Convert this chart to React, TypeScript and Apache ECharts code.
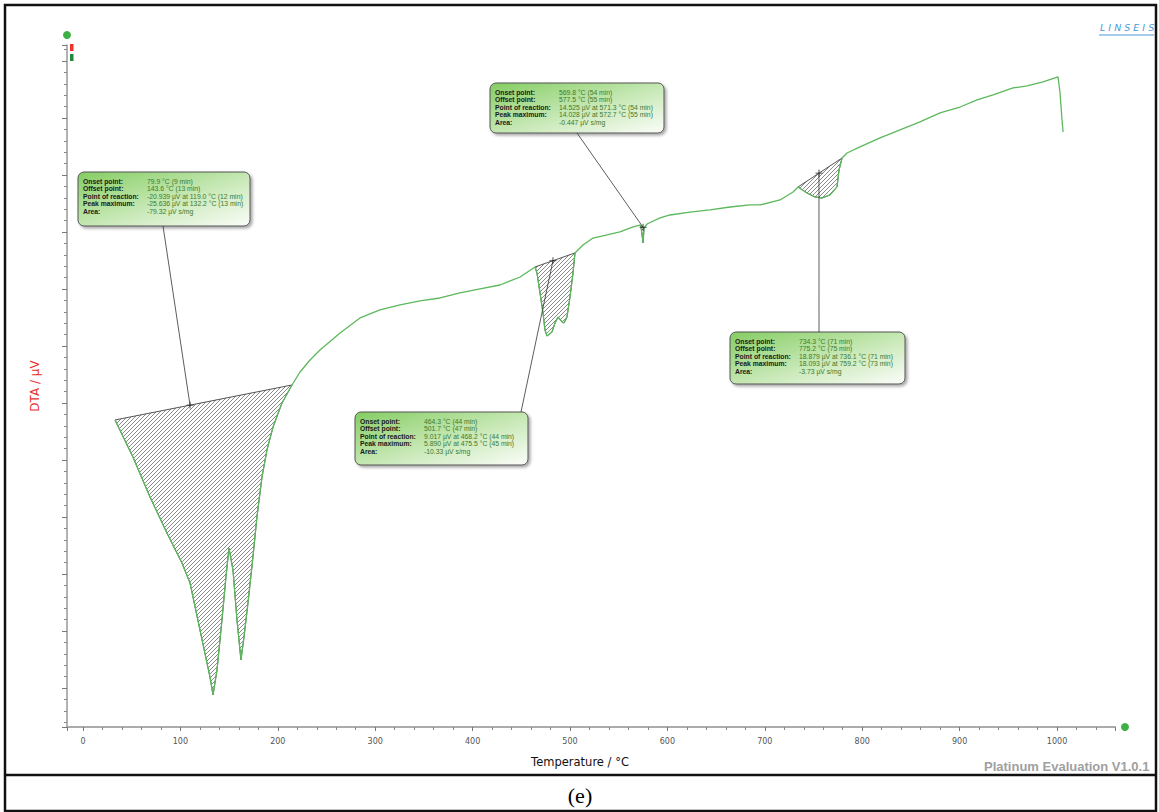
import React, { useEffect, useRef } from 'react';
import * as echarts from 'echarts';

// DTA curve (temperature °C, signal µV)
const curveT = [32.9, 51.3, 68.8, 86.2, 101.6, 109.9, 120.1, 130.4, 133.5, 137.6, 142.7, 146.8, 149.9, 154.0, 158.1, 162.2, 165.3, 169.4, 174.5, 178.6, 183.8, 188.9, 195.1, 204.3, 214.6, 222.8, 233.1, 243.3, 263.9, 284.4, 304.9, 325.5, 346.0, 366.5, 387.1, 407.6, 428.1, 448.7, 464.1, 466.1, 469.2, 472.3, 474.3, 476.4, 481.5, 484.6, 487.7, 491.8, 493.8, 496.9, 500.0, 503.1, 505.1, 513.3, 523.6, 538.0, 551.3, 564.7, 571.9, 572.9, 575.0, 576.0, 579.1, 592.4, 602.7, 623.2, 643.7, 664.3, 684.8, 695.1, 715.6, 729.0, 734.1, 743.3, 751.5, 758.7, 766.9, 774.1, 776.2, 779.3, 784.4, 797.7, 818.3, 838.8, 859.3, 879.9, 900.4, 917.9, 934.3, 954.8, 969.2, 985.6, 1001.0, 1003.1, 1005.1, 1006.2];
const curveV = [-1.49, -4.74, -8.25, -11.40, -14.04, -15.79, -19.91, -24.04, -25.61, -23.42, -19.04, -15.26, -12.72, -14.65, -19.04, -22.54, -20.53, -17.54, -13.51, -10.00, -6.49, -4.12, -2.11, 0.00, 1.58, 2.72, 3.77, 4.65, 6.14, 7.46, 8.16, 8.60, 8.95, 9.21, 9.65, 10.00, 10.35, 11.05, 11.93, 11.40, 9.65, 7.89, 6.40, 5.88, 6.23, 7.02, 7.54, 7.11, 7.02, 7.54, 9.30, 11.40, 13.16, 13.86, 14.47, 14.74, 15.00, 15.44, 15.61, 15.44, 14.04, 15.35, 15.70, 16.23, 16.49, 16.75, 16.93, 17.19, 17.37, 17.37, 17.81, 18.51, 18.95, 18.42, 18.07, 17.98, 18.25, 18.95, 20.44, 21.49, 21.93, 22.46, 23.25, 23.95, 24.65, 25.44, 25.96, 26.58, 27.02, 27.63, 27.81, 28.16, 28.60, 27.19, 24.82, 23.77];

// hatched peak regions (temperature range of the integration baseline)
const hatchStart = [32.9, 464.1, 571.9, 734.1];
const hatchEnd = [214.6, 505.1, 576.0, 779.3];

// points of reaction (cross marks on the baselines)
const crossT = [109.9, 482.5, 575.0, 755.6];
const crossV = [-0.19, 12.48, 15.41, 20.16];

// axis extents and steps
const xMin = -16.4;
const xMax = 1059.5;
const xStep = 100;
const yMin = -28.42;
const yMax = 31.4;
const yStep = 5;

const rowLabels = ['Onset point:', 'Offset point:', 'Point of reaction:', 'Peak maximum:', 'Area:'];
const box1Values = ['79.9 °C (9 min)', '143.6 °C (13 min)', '-20.939 µV at 119.0 °C (12 min)', '-25.636 µV at 132.2 °C (13 min)', '-79.32 µV s/mg'];
const box2Values = ['569.8 °C (54 min)', '577.5 °C (55 min)', '14.525 µV at 571.3 °C (54 min)', '14.028 µV at 572.7 °C (55 min)', '-0.447 µV s/mg'];
const box3Values = ['464.3 °C (44 min)', '501.7 °C (47 min)', '9.017 µV at 468.2 °C (44 min)', '5.890 µV at 475.5 °C (45 min)', '-10.33 µV s/mg'];
const box4Values = ['734.3 °C (71 min)', '775.2 °C (75 min)', '18.879 µV at 736.1 °C (71 min)', '18.093 µV at 759.2 °C (73 min)', '-3.73 µV s/mg'];

export default function App() {
  const ref = useRef<HTMLDivElement>(null);

  useEffect(() => {
    const chart = echarts.init(ref.current as HTMLDivElement, null, { renderer: 'svg' });

    // hatch tile
    const cv = document.createElement('canvas');
    cv.width = 4;
    cv.height = 4;
    const ctx = cv.getContext('2d') as CanvasRenderingContext2D;
    ctx.fillStyle = '#8a8a8a';
    for (let i = 0; i < 4; i++) ctx.fillRect(i, 3 - i, 1, 1);
    const hatch: any = { image: cv.toDataURL(), repeat: 'repeat', imageWidth: 4, imageHeight: 4 };

    const curve = curveT.map((t, i) => [t, curveV[i]]);
    const vAt = (t: number) => {
      const i = curveT.indexOf(t);
      return i >= 0 ? curveV[i] : 0;
    };

    chart.setOption({
      animation: false,
      grid: { left: 67, right: 44, top: 45, bottom: 85, outerBoundsMode: 'none' },
      xAxis: {
        type: 'value',
        min: xMin,
        max: xMax,
        minInterval: xStep,
        maxInterval: xStep,
        splitNumber: 11,
        axisLine: { onZero: false, lineStyle: { color: '#ababab', width: 2 } },
        axisTick: { show: true, length: 4, lineStyle: { color: '#777', width: 1 } },
        minorTick: { show: true, splitNumber: 5, length: 3, lineStyle: { color: '#888', width: 1 } },
        axisLabel: {
          showMinLabel: false,
          showMaxLabel: false,
          fontSize: 8,
          color: '#555',
          margin: 10,
          fontFamily: 'DejaVu Sans',
          formatter: (v: number) => String(v),
        },
        splitLine: { show: false },
      },
      yAxis: {
        type: 'value',
        min: yMin,
        max: yMax,
        minInterval: yStep,
        maxInterval: yStep,
        splitNumber: 12,
        name: 'DTA / µV',
        nameLocation: 'middle',
        nameGap: 26,
        nameRotate: 90,
        nameTextStyle: { color: '#e8302a', fontSize: 12, fontFamily: 'DejaVu Sans' },
        axisLine: { show: true, onZero: false, lineStyle: { color: '#999', width: 1.5 } },
        axisTick: { show: true, length: 5, lineStyle: { color: '#777', width: 1 } },
        minorTick: { show: true, splitNumber: 5, length: 3, lineStyle: { color: '#888', width: 1 } },
        axisLabel: { show: false },
        splitLine: { show: false },
      },
      series: [
        {
          type: 'custom',
          silent: true,
          z: 1,
          data: hatchStart.map((s, i) => [s, vAt(s), hatchEnd[i], vAt(hatchEnd[i])]),
          renderItem: (params: any, api: any) => {
            const s = api.value(0);
            const e = api.value(2);
            const pts = curve
              .filter((p) => p[0] >= s - 1e-6 && p[0] <= e + 1e-6)
              .map((p) => api.coord(p));
            return {
              type: 'polygon',
              shape: { points: pts },
              style: { fill: hatch, stroke: '#555', lineWidth: 1 },
            };
          },
        },
        {
          type: 'line',
          data: curve,
          showSymbol: false,
          symbol: 'none',
          lineStyle: { color: '#5cb85c', width: 1.3 },
          z: 3,
        },
        {
          type: 'scatter',
          data: crossT.map((t, i) => [t, crossV[i]]),
          symbol: 'path://M0,5L10,5M5,0L5,10',
          symbolSize: 7,
          itemStyle: { color: 'none', borderColor: '#222', borderWidth: 1 },
          z: 4,
        },
      ],
    });

    const cp = crossT.map((t, i) => chart.convertToPixel({ gridIndex: 0 }, [t, crossV[i]]) as number[]);

    const boxes = [
      { x: 78, y: 172, w: 172, h: 54, vals: box1Values, ax: 163, ay: 226, c: cp[0] },
      { x: 490, y: 83, w: 174, h: 50, vals: box2Values, ax: 577, ay: 133, c: cp[2] },
      { x: 355, y: 412, w: 173, h: 53, vals: box3Values, ax: 521, ay: 412, c: cp[1] },
      { x: 730, y: 332, w: 175, h: 52, vals: box4Values, ax: 819, ay: 332, c: cp[3] },
    ];

    const gradient = new echarts.graphic.LinearGradient(0, 0, 1, 1, [
      { offset: 0, color: '#84cd62' },
      { offset: 0.55, color: '#c9e9b8' },
      { offset: 1, color: '#fbfdf9' },
    ]);

    const graphics: any[] = [];
    boxes.forEach((b) => {
      graphics.push({
        type: 'line',
        shape: { x1: b.ax, y1: b.ay, x2: b.c[0], y2: b.c[1] },
        style: { stroke: '#333', lineWidth: 0.8 },
        z: 50,
      });
    });
    boxes.forEach((b) => {
      const children: any[] = [
        {
          type: 'rect',
          shape: { x: 0, y: 0, width: b.w, height: b.h, r: 6 },
          style: {
            fill: gradient,
            stroke: '#555',
            lineWidth: 1,
            shadowBlur: 3,
            shadowColor: 'rgba(0,0,0,0.35)',
            shadowOffsetX: 2,
            shadowOffsetY: 2,
          },
        },
      ];
      rowLabels.forEach((lab, i) => {
        const yy = 9 + i * 7.6;
        children.push({
          type: 'text',
          x: 5,
          y: yy,
          style: { text: lab, fontSize: 6.8, fontWeight: 'bold', fontFamily: 'Liberation Sans', fill: '#1a1a1a', verticalAlign: 'middle' },
        });
        children.push({
          type: 'text',
          x: 69,
          y: yy,
          style: { text: b.vals[i], fontSize: 6.8, fontFamily: 'Liberation Sans', fill: '#3d7a2c', verticalAlign: 'middle' },
        });
      });
      graphics.push({ type: 'group', x: b.x, y: b.y, z: 60, children });
    });

    graphics.push(
      { type: 'circle', shape: { cx: 67, cy: 35, r: 4 }, style: { fill: '#3fb043' }, z: 40 },
      { type: 'circle', shape: { cx: 1125, cy: 727, r: 4 }, style: { fill: '#3fb043' }, z: 40 },
      { type: 'rect', shape: { x: 70, y: 44, width: 3.5, height: 7 }, style: { fill: '#f0302a' }, z: 40 },
      { type: 'rect', shape: { x: 70, y: 54, width: 3.5, height: 7 }, style: { fill: '#1e8a3a' }, z: 40 },
      {
        type: 'text', x: 580, y: 762,
        style: { text: 'Temperature / °C', fontSize: 11.5, fontFamily: 'DejaVu Sans', fill: '#111', align: 'center', verticalAlign: 'middle' },
        z: 40,
      },
      {
        type: 'text', x: 984, y: 766,
        style: { text: 'Platinum Evaluation V1.0.1', fontSize: 13, fontWeight: 'bold', fontFamily: 'Liberation Sans', fill: '#a0a0a0', verticalAlign: 'middle' },
        z: 40,
      },
      {
        type: 'text', x: 1100, y: 27,
        style: { text: 'L I N S E I S', fontSize: 9.5, fontStyle: 'italic', fontFamily: 'DejaVu Sans', fill: '#4a9bd6', verticalAlign: 'middle' },
        z: 40,
      },
      { type: 'line', shape: { x1: 1099, y1: 35, x2: 1154, y2: 35 }, style: { stroke: '#4a9bd6', lineWidth: 1 }, z: 40 },
      {
        type: 'text', x: 580, y: 795,
        style: { text: '(e)', fontSize: 22, fontFamily: 'Liberation Serif', fill: '#000', align: 'center', verticalAlign: 'middle' },
        z: 40,
      },
      { type: 'rect', shape: { x: 5, y: 5, width: 1151, height: 806 }, style: { fill: 'none', stroke: '#111', lineWidth: 2.5 }, z: 100 },
      { type: 'line', shape: { x1: 5, y1: 775, x2: 1156, y2: 775 }, style: { stroke: '#111', lineWidth: 2.5 }, z: 100 }
    );

    chart.setOption({ graphic: graphics });

    return () => {
      chart.dispose();
    };
  }, []);

  return (
    <div
      ref={ref}
      style={{ position: 'fixed', left: 0, top: 0, width: 1159, height: 812, background: '#fff' }}
    />
  );
}
